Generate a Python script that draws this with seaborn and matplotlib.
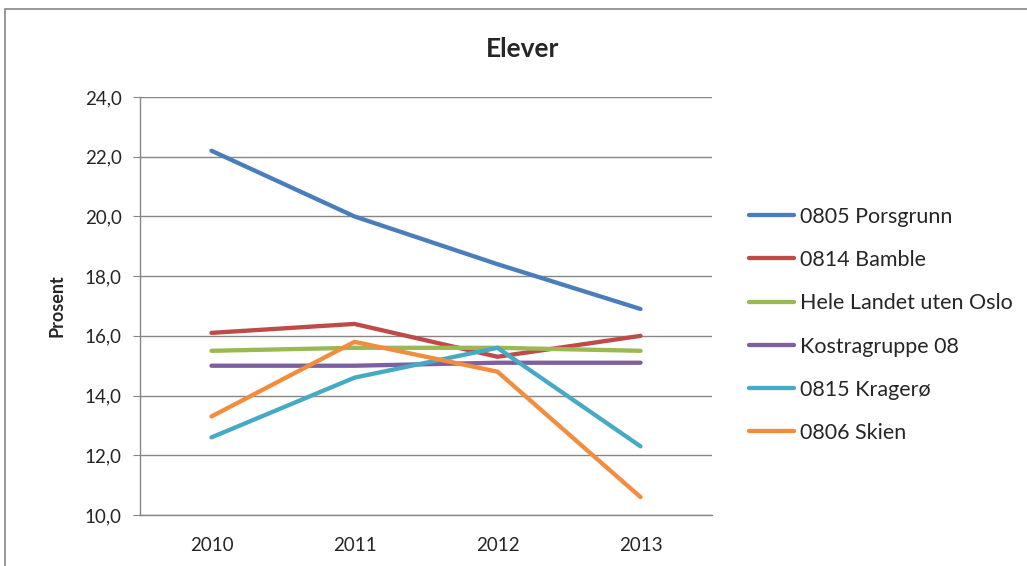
import matplotlib
matplotlib.use("Agg")
import matplotlib.pyplot as plt
import seaborn as sns
import pandas as pd
from matplotlib.ticker import FuncFormatter, MultipleLocator
from matplotlib.patches import Rectangle

years = ["2010", "2011", "2012", "2013"]
series_names = ["0805 Porsgrunn", "0814 Bamble", "Hele Landet uten Oslo",
                "Kostragruppe 08", "0815 Kragerø", "0806 Skien"]
porsgrunn = [22.2, 20.0, 18.4, 16.9]
bamble = [16.1, 16.4, 15.3, 16.0]
hele_landet = [15.5, 15.6, 15.6, 15.5]
kostragruppe = [15.0, 15.0, 15.1, 15.1]
kragero = [12.6, 14.6, 15.6, 12.3]
skien = [13.3, 15.8, 14.8, 10.6]
colors = ["#4A7EBB", "#BE4B48", "#98B954", "#7D60A0", "#46AAC5", "#F38D3E"]

values = [porsgrunn, bamble, hele_landet, kostragruppe, kragero, skien]
rows = []
for name, vals in zip(series_names, values):
    for y, v in zip(years, vals):
        rows.append({"År": y, "Prosent": v, "Serie": name})
df = pd.DataFrame(rows)

sns.set_style("white")
plt.rcParams["font.family"] = ["Lato", "DejaVu Sans"]

fig = plt.figure(figsize=(10.27, 5.66), dpi=100)
ax = fig.add_axes([0.1363, 0.0901, 0.5570, 0.7385])

sns.lineplot(data=df, x="År", y="Prosent", hue="Serie", hue_order=series_names,
             palette=colors, linewidth=3.1, ax=ax, sort=False)

ax.set_xlim(-0.5, 3.5)
ax.set_ylim(10, 24)
ax.yaxis.set_major_locator(MultipleLocator(2))
ax.yaxis.set_major_formatter(FuncFormatter(lambda v, p: f"{v:.1f}".replace(".", ",")))
ax.grid(axis="y", color="#868686", linewidth=1.0)
ax.grid(axis="x", visible=False)
ax.set_axisbelow(True)
for s in ["top", "right"]:
    ax.spines[s].set_visible(False)
for s in ["left", "bottom"]:
    ax.spines[s].set_color("#868686")
    ax.spines[s].set_linewidth(1.0)
ax.tick_params(axis="y", which="major", length=5, color="#868686", left=True,
               labelsize=13.5, pad=8)
ax.tick_params(axis="x", length=0, labelsize=13.5, pad=16)
ax.set_xlabel("")
ax.set_ylabel("Prosent", fontsize=13, fontweight="bold", labelpad=14)
fig.text(0.509, 0.913, "Elever", ha="center", va="center", fontsize=19, fontweight="bold")

handles, labels = ax.get_legend_handles_labels()
ax.legend(handles, labels, loc="upper left", bbox_to_anchor=(1.05, 0.758),
          frameon=False, fontsize=15.5, handlelength=2.1, handletextpad=0.25,
          labelspacing=1.08, borderaxespad=0)

fig.patches.append(Rectangle((5 / 1027, -0.1), 1.2, (1 - 9 / 566) + 0.1,
                             transform=fig.transFigure, fill=False,
                             edgecolor="#868686", linewidth=1.2))

fig.savefig("out.png", dpi=100)
